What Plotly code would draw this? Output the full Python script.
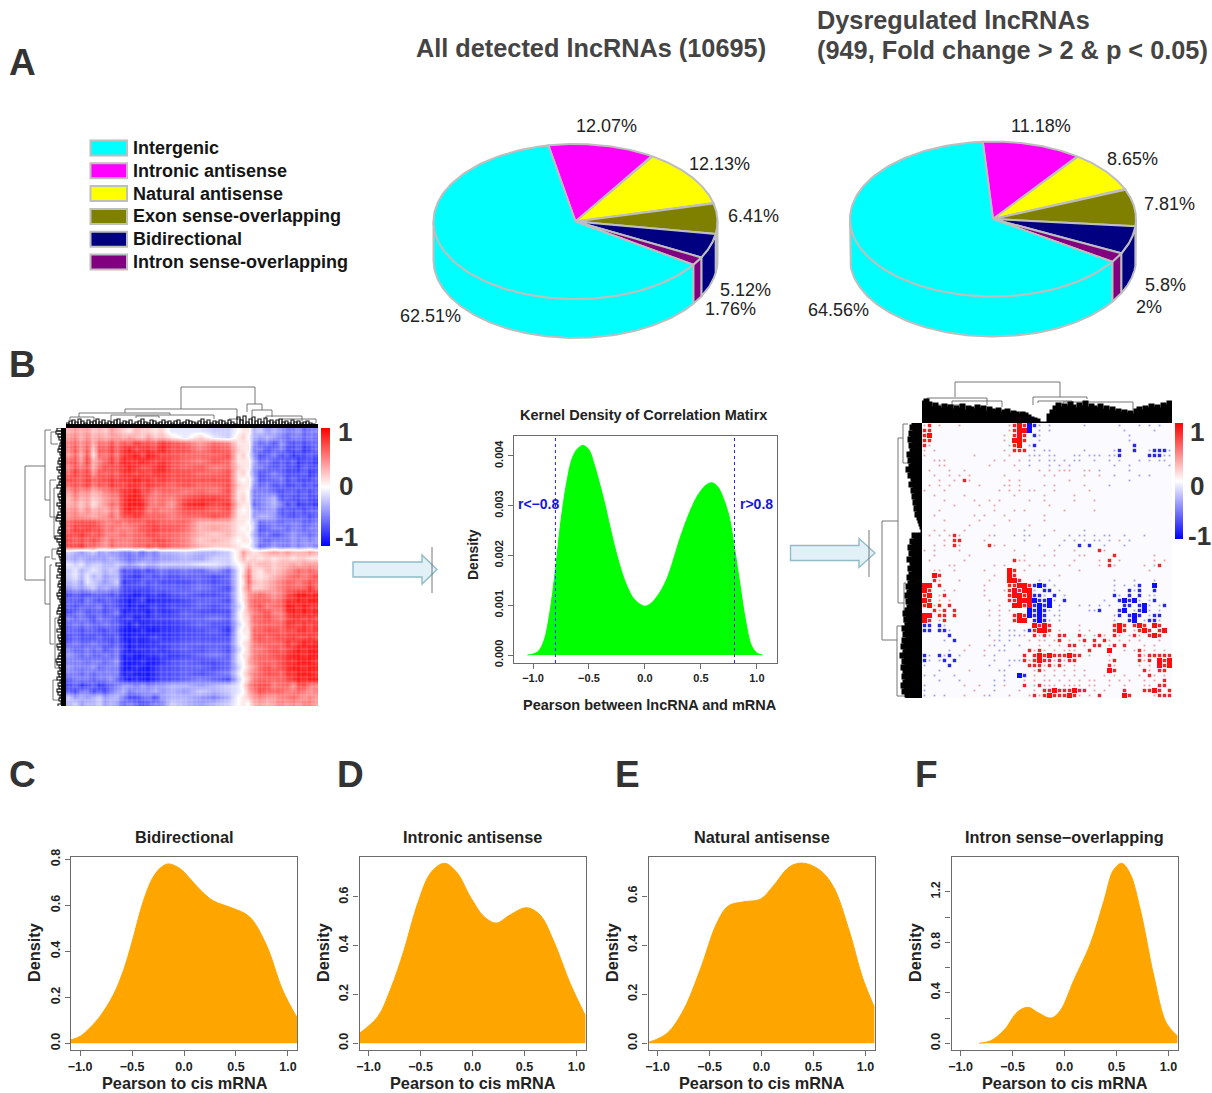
import math
import plotly.graph_objects as go

W, H = 1212, 1093
FONT = "Liberation Sans"

# ---------- panel A ----------
PIE_LABELS = ["Intergenic", "Intronic antisense", "Natural antisense",
              "Exon sense-overlapping", "Bidirectional", "Intron sense-overlapping"]
PIE_COLORS = ["#00FFFF", "#FF00FF", "#FFFF00", "#808000", "#000080", "#800080"]
PIE_ALL = [62.51, 12.07, 12.13, 6.41, 5.12, 1.76]
PIE_DYS = [64.56, 11.18, 8.65, 7.81, 5.8, 2.0]
PIE_ALL_TEXT = ["62.51%", "12.07%", "12.13%", "6.41%", "5.12%", "1.76%"]
PIE_DYS_TEXT = ["64.56%", "11.18%", "8.65%", "7.81%", "5.8%", "2%"]

# ---------- panel B: clustered correlation heatmap ----------
# digits are +tenths, letters a..i are -1..-9 tenths; spaces split the column clusters
HM1_CLUSTER_EDGES = [0, 54, 98, 169, 184, 218, 252]
HM1_ROWS = [
 "343423243 2132212 aaabb 011 cbdcd eedfee",
 "453534344 3432423 1a2ab 120 cdcde feefef",
 "564636575 7687768 76465 111 dfegd fgfgff",
 "574727686 8978879 77576 211 eegfe ggfhgf",
 "463716575 8897987 76667 120 dgfeg fhggfg",
 "674835686 9889878 76576 111 cfegf gfhggh",
 "575736777 8987789 76756 211 defgf gghfgg",
 "686847676 8878788 77667 120 dgfef gggfhg",
 "776867787 8898878 77777 101 cgffe gfgggf",
 "676857687 7887877 67667 211 dfegf ggfgfg",
 "464534566 8897756 65657 110 eeefg ffgfgf",
 "353423455 8998656 57887 120 eedcg fggfgg",
 "342413465 8999656 48978 211 fedce gfhggh",
 "453534354 8988565 57767 101 deddg fgfgff",
 "454434464 7787666 56676 111 dccdf fgffgf",
 "677776556 5666776 66333 110 bfeef eeeffe",
 "687877565 5567787 76343 101 bgfee feefee",
 "778767555 6566776 65323 110 cfegf edeefe",
 "767676465 5566677 65232 011 befee ededed",
 "778665465 5566767 65322 100 bfede ededde",
 "bcdcbdcdd eedfdec cbccb 142 12343 433343",
 "cdcddddcd efeeded dcdbb 131 21212 212211",
 "abacbbccb cdcbccb bbaab 013 23323 343444",
 "bacbabcbc gfgfgfe fefdf a15 21323 456565",
 "bacacbdcc gghgfgf gffgf a26 21234 566567",
 "cbdabcdcb hggfgfg ggfgf a16 32345 665676",
 "dcdcbdcdd gggggff ffefg a25 22345 666686",
 "gfggfffgf hhihhgh gfggf a14 56545 789989",
 "ffgefgffg hihgihh hgffg a14 66656 889899",
 "fgfffegfg hihihgh ggfgf b04 67566 998988",
 "gfegffgfe ihhhigh hfggg a13 56755 898989",
 "efefgeffg hgihhgg gffef a12 66765 788787",
 "fefeffeff higihhh hgfgg b02 56666 887878",
 "ffgffggfg iiihiih hggfh a11 66776 778878",
 "gfgggfggf iihihgh hgggg a01 67677 787787",
 "feffeffgf hihihhg gffff a12 56666 878989",
 "effefegfe hihhhgh gfgfg b02 55676 789899",
 "defeffefe ihiihhg hgfef a12 56677 899899",
 "eeefeefed iiihiih gfggf a03 56667 889998",
 "deeedfeee iihiihg gffgf b02 46767 899899",
 "eefefeeee ihiiihg gfgfe a13 56776 889998",
 "feeefeedf hihiihg gfefg b02 56666 789899",
 "gfhgfhgfe ddededd ccdcb a14 67756 647755",
 "fgeegfged cedddcd cdbcb a03 57666 556545",
 "bdcdcbdcc eggfegd ccdec 012 45445 565454",
 "cbdccbdcd fefgfee bcdcb 010 34345 454554",
]
HM1_PALE_COLS = [3,7,11,14,19,22,26,31,35,41,44,49,52,57,61,66,71,76,79,85,90,95,101,106,109,115,120,126,
                 131,134,140,144,151,155,159,166,172,175,181,187,191,196,201,206,209,215,219,226,230,235,241,246,250]
HM1_PALE_ROWS = [4,9,12,17,21,26,33,37,40,46,50,55,60,66,70,74,79,83,91,96,100,105,110,115,122,130,137,140,
                 146,151,157,165,170,176,180,186,191,197,205,209,216,221,226,233,238,244,249,255,259,267,272,276]

# ---------- panel B: thresholded heatmap (r/b solid, m/c medium, p/q sparse) ----------
HM2_ROWS = [
 "pm.p...p.........pmrmbcq.q......q......q...q.q.q..",
 "mm...............pmrrb.q.q..............q.....q...",
 "mr..............p.mrm.cq.................q........",
 "mm..............p.rrm..q.................q........",
 "mp...............pmr.qc...................c.......",
 "p.p.............p.mmm.q.qq......q.....qc..c..qcccq",
 "p.........p......p...qqq.qq...qq.qqq.qqc.....cccqq",
 "..ppp.........p.p..p.q.q.qq.q.qq..q..q.q...q.q.qq.",
 "...pp........p....p..q...q.q.q........q..q.......q",
 ".p...p..p..........p...p.p.ppp..pp.q.....q.....",
 "..p..p.p.p......p.......p.p.....p..p..q....q.q...",
 "...p..p.mp.......p.p.........p...........q......",
 ".p.p.p.....p....pp.p....p.p.....p....q.....",
 "p...p..........p.p.p.pp...p......p.......",
 "..p.....p.........p.....p.....p......",
 "....p.....p..p.p.....p..p.....p...p..",
 "......p....p..p..........p.......",
 "...p..........p...p.p.......p.....p..",
 "..p.......p.p...p.......p...",
 "....p......p.....p......p......",
 ".........p....p......p.......",
 "..p.p...p...........q.....p.....q...",
 ".p.p.pmp.....pq...q.qq..q....q.qq.q.qq..q...q",
 "....p.mm....p.......q.......q.q.q.qq.q.p.q..",
 "..p.p.mp.....mp.p......q...q...c.c..q...q..",
 "p.p....p..........p.......p...p....mp..........",
 "..p......p..........p...p.p....pp.....m.......p",
 ".p......p.........mpp.........p....p.m.p......p.p",
 ".....pp.......p.p....p.pp.p..p.....p.mp.....p.pm..",
 "..pp..p.....p....rm.p..........p.............p....",
 "..rm..........p..rm........p.....................",
 "..mp...p.....p...rrm...q.q............q...q...q...",
 "rr.m........p....mmrrmcbc.q...........q.q.qc..b....",
 "rm..p.p.....p...pmrmrrq.cc.q..........q..cqc..c....",
 "mr.pm.......p....mrrmrccq.c.q.........cq.c.c.qq...",
 "rm.p.p.......p...mmrrrbccbq.c.......q..cbcbq.qc...q",
 "mrpm.m.........p..rrmrcbcb.q...q.q.q.q..cc.cbq.qc..",
 "..mpm.m......p.p.p...bcbcq.q.....qqc...cb.qcbq.q...",
 "rr.mm.m......p.p..mrmbcbc.qq..........qc.cbc.qcc..",
 "rm.pm..........p..mrr.cbcq.q..........q..cb.qccq..",
 "cc.cq..........p......rmrm.....p......mrm.mrm.rm..",
 "cc.ccq.......p.q.qq.qcmrrm.p...p.p....mrm.pmrm.mr.",
 ".....c.......q.q.qqqp.mpmp.mm..mp.pmp.mp.pmp.mrm..",
 "....q.c.......pq.q...p.pp.pm.p.pm.m.mp.p.p.p...p..",
 ".........p...pq.q..q...p.p.p.mm.p.mm.pm.m...p.p..",
 ".....q..p...p..qq....mpmp.p.ppp..m...r..p.pmp.p.p",
 "cq.cqc.q....p.q.....m.mrmrmmmrmm.p...p.....mpmmmmm",
 "cq.qc.c.......q..qqqmpmrmmpmpmm......pm....mpm.rmr",
 "q....c.......q...q...mmmpmpmp.p......mp....p.p.rmr",
 "...q.....p.....qq.....pmp.p.p.p.p....rm.....mp.mm",
 "q.q...q.........q..bc.p.p.p.p.p.p...p.p.p..p.mp.p",
 "...q...q......q.q...p.p.pp.p.p.p.pp..p.p.p..p.p.m",
 "q.......p..p..q.p...m.pmppp.pppp.pp..p..p...pp.mm",
 "q.........p...q....p..p.mmrmmmrmm.p.p...m...mmrm.m",
 "q.q.q...p...pq...p...pmpmrmmmrmp.p.m....rm....pmmm",
]

# ---------- dendrograms: (pos1, h1, pos2, h2, merge height), px-like units ----------
DT1_BRANCHES = [(115,19,189,24,41),(59,15,171,8,19),(13,11,104,13,15),(181,16,196,18,24),(186,12,206,11,18),
                (45,8,148,9,13),(70,10,93,10,12),(4,8,28,7,11),(163,7,175,8,9),(200,8,236,7,12),(216,6,250,5,9)]
DT1_COMB = [5,7,8,6,9,7,5,8,6,7,9,6,8,5,7,6,8,9,5,7,6,8,4,6,7,9,6,5,8,7,5,6,8,6,7,5,
            7,8,5,6,8,7,6,5,7,9,6,8,5,7,6,8,7,5,8,6,4,11,8,12,6,9,11,7,9,6,10,7,8,
            6,8,9,6,7,5,8,6,7,5,6,7,5,4,3]
DL1_BRANCHES = [(38,21,152,21,41),(2,15,72,16,21),(52,10,89,8,16),(129,16,176,16,21),(137,14,216,12,16),
                (4,10,16,8,15),(121,9,131,10,14),(252,8,272,7,13),(60,7,110,8,12),(190,8,240,7,11)]
DL1_COMB = [9,10,8,7,5,6,7,8,6,5,7,8,6,9,7,5,8,6,7,9,5,6,8,7,6,9,7,5,8,9,10,6,5,7,8,6,
            11,9,7,6,8,9,7,6,5,10,7,8,6,9,5,7,8,6,7,9,8,6,5,7,8,9,6,7,8,7,6,9,5,8,
            7,6,9,8,5,7,8,10,9,7,6,8,7,9,6,8,7,9,8,6,7,5,8]
DT2_BRANCHES = [(33,26,138,26,41),(5,21,65,18,25),(30,18,80,16,22),(111,18,165,24,26),(116,20,150,18,22),
                (141,17,211,13,21),(5,16,40,15,18)]
DT2_COMB = [21,23,20,15,19,16,14,18,15,17,13,16,14,18,12,16,15,13,17,14,16,11,15,13,12,14,10,12,13,9,11,10,
            8,10,9,7,5,4,3,0,0,0,8,12,16,19,15,18,16,20,17,14,19,16,21,15,18,16,14,18,13,16,12,15,11,13,10,
            12,9,11,8,13,15,12,16,14,18,15,17,14,19,17,21,20]
DL2_BRANCHES = [(98,24,217,25,40),(15,19,180,18,24),(203,18,273,16,25),(1,14,40,14,19),(160,16,200,14,18),
                (218,14,250,15,18)]
DL2_COMB = [9,11,8,12,10,13,9,12,10,11,14,11,13,10,12,15,11,13,10,9,12,8,10,7,9,6,8,5,7,4,6,4,3,2,1,0,
            0,9,7,11,9,13,10,12,9,14,11,10,13,9,12,14,11,13,15,12,14,16,13,15,12,14,16,18,15,17,14,16,19,
            16,18,15,19,17,20,16,18,21,17,19,16,20,18,17,19,16,18,20,17,19,16,15]

# ---------- panel B: kernel density ----------
KD_X = [-1.05,-1.0,-0.95,-0.9,-0.85,-0.8,-0.75,-0.7,-0.65,-0.6,-0.55,-0.5,-0.45,-0.4,-0.35,-0.3,-0.25,-0.2,-0.15,
        -0.1,-0.05,0.0,0.05,0.1,0.15,0.2,0.25,0.3,0.35,0.4,0.45,0.5,0.55,0.6,0.65,0.7,0.75,0.8,0.85,0.9,0.95,1.0,1.05]
KD_Y = [0,.00002,.00008,.0003,.00085,.0017,.0027,.00345,.00395,.00415,.00421,.00412,.0038,.0034,.00295,.00245,.002,
        .00162,.00133,.00113,.00103,.00098,.00103,.00115,.00132,.00155,.00188,.00225,.00258,.00287,.00312,.0033,
        .00342,.00346,.00338,.00315,.0028,.00215,.0014,.00068,.0002,.00004,0]

# ---------- panels C-F ----------
C_X = [-1.09,-1.0,-0.9,-0.81,-0.68,-0.58,-0.5,-0.39,-0.3,-0.22,-0.15,-0.04,0.05,0.15,0.28,0.47,0.63,0.79,0.95,1.09]
C_Y = [.015,.03,.07,.116,.21,.32,.44,.62,.72,.765,.78,.76,.72,.67,.62,.587,.55,.43,.23,.11]
D_X = [-1.09,-0.91,-0.79,-0.66,-0.53,-0.4,-0.27,-0.15,-0.02,0.11,0.23,0.36,0.52,0.65,0.78,0.94,1.09]
D_Y = [.04,.11,.22,.38,.57,.70,.738,.70,.60,.52,.493,.526,.556,.526,.42,.245,.11]
E_X = [-1.09,-0.91,-0.75,-0.59,-0.43,-0.32,-0.17,-0.01,0.11,0.27,0.4,0.56,0.69,0.85,0.97,1.09]
E_Y = [.003,.04,.136,.30,.49,.56,.577,.588,.64,.72,.735,.707,.64,.45,.27,.143]
F_X = [-0.82,-0.71,-0.58,-0.45,-0.35,-0.25,-0.13,-0.04,0.09,0.25,0.38,0.47,0.55,0.63,0.73,0.86,0.98,1.09]
F_Y = [0,.02,.105,.25,.285,.24,.2,.26,.5,.79,1.13,1.37,1.425,1.345,1.055,.53,.16,.055]
X_TICKS = [-1.0, -0.5, 0.0, 0.5, 1.0]
X_TICK_TEXT = ["−1.0", "−0.5", "0.0", "0.5", "1.0"]

fig = go.Figure()
_n = [0]


def axes(l, t, r, b, xr, yr, frame=False, **kw):
    _n[0] += 1
    n = _n[0]
    common = dict(showgrid=False, zeroline=False)
    if frame:
        common.update(showline=True, mirror=True, linecolor="#6b6b6b", linewidth=1.3, ticks="outside",
                      tickcolor="#6b6b6b", ticklen=5)
    else:
        common.update(visible=False)
    fig.update_layout({
        f"xaxis{n}": dict(domain=[l / W, r / W], range=xr, anchor=f"y{n}", **common, **kw.get("x", {})),
        f"yaxis{n}": dict(domain=[1 - b / H, 1 - t / H], range=yr, anchor=f"x{n}", **common, **kw.get("y", {})),
    })
    return (f"x{n}", f"y{n}")


def add(ax, trace):
    trace.update(xaxis=ax[0], yaxis=ax[1], showlegend=False, hoverinfo="skip")
    fig.add_trace(trace)


def note(text, x, y, size, color="#222222", bold=True, anchor="center", angle=0):
    fig.add_annotation(text=text, x=x / W, y=1 - y / H, xref="paper", yref="paper", showarrow=False,
                       xanchor=anchor, yanchor="middle", textangle=angle,
                       font=dict(family=FONT, size=size, color=color, weight=700 if bold else 400))


def rect(l, t, r, b, fill, line, lw=2):
    fig.add_shape(type="rect", xref="paper", yref="paper", x0=l / W, x1=r / W, y0=1 - b / H, y1=1 - t / H,
                  fillcolor=fill, line=dict(color=line, width=lw))


def pie(values, start, cx, cy, rx, ry, depth):
    ax = axes(cx - 150, cy - 85, cx + 150, cy + 125, [-150, 150], [-125, 85])
    edge = dict(color="#BEBEBE", width=2)
    spans, a = [], start
    order = [1, 2, 3, 4, 5, 0]
    for i in order:
        b = a + values[i] * 3.6
        spans.append((i, a, b))
        a = b
    for i, a, b in spans:
        lo, hi = max(a, 90), min(b, 270)
        if hi > lo:
            ts = [lo + (hi - lo) * k / 120 for k in range(121)]
            xs = [rx * math.sin(math.radians(t)) for t in ts]
            ys = [ry * math.cos(math.radians(t)) for t in ts]
            add(ax, go.Scatter(x=xs + xs[::-1] + xs[:1], y=ys + [v - depth for v in ys[::-1]] + ys[:1],
                               mode="lines", fill="toself", fillcolor=PIE_COLORS[i], line=edge))
    for i, a, b in spans:
        ts = [a + (b - a) * k / 120 for k in range(121)]
        xs = [rx * math.sin(math.radians(t)) for t in ts]
        ys = [ry * math.cos(math.radians(t)) for t in ts]
        add(ax, go.Scatter(x=[0] + xs + [0], y=[0] + ys + [0], mode="lines", fill="toself",
                           fillcolor=PIE_COLORS[i], line=edge))


pie(PIE_ALL, -11.0, 575.5, 221.5, 142, 77.5, 39)
pie(PIE_DYS, -4.1, 993, 219, 143, 77.5, 40)

for i, (lab, col) in enumerate(zip(PIE_LABELS, PIE_COLORS)):
    y = 148 + i * 22.8
    rect(90.5, y - 7.5, 127, y + 7.5, col, "#BEBEBE")
    note(lab, 131, y, 18, "#151515", anchor="left")

for txt, x, y in zip(PIE_ALL_TEXT, [430, 606, 719, 753, 745, 730], [316, 126, 164, 216, 290, 309]):
    note(txt, x, y, 18, "#222222", bold=False)
for txt, x, y in zip(PIE_DYS_TEXT, [838, 1041, 1132, 1169, 1165, 1149], [310, 126, 159, 204, 285, 307]):
    note(txt, x, y, 18, "#222222", bold=False)

note("All detected lncRNAs (10695)", 590.5, 48, 25.3, "#444444")
note("Dysregulated lncRNAs", 815, 20, 25.3, "#444444", anchor="left")
note("(949, Fold change > 2 &amp; p &lt; 0.05)", 815, 50, 25.3, "#444444", anchor="left")

for letter, x, y in [("A", 22, 63), ("B", 22, 364), ("C", 22, 774), ("D", 350, 774), ("E", 627, 774), ("F", 926, 774)]:
    note(letter, x, y, 37, "#333333")

BWR = [[0, "#0000FF"], [0.5, "#FFFFFF"], [1, "#FF0000"]]


def cbar(l, t, r, b):
    return dict(x=l / W, xanchor="left", xpad=0, y=1 - t / H, yanchor="top", ypad=0,
                thicknessmode="pixels", thickness=r - l, lenmode="fraction", len=(b - t) / H,
                outlinewidth=0, ticks="", showticklabels=False)


def level(ch):
    return int(ch) / 10 if ch.isdigit() else -(ord(ch) - 96) / 10


# left heatmap
ax = axes(66, 428, 318, 706, [0, 252], [278, 0])
hm1 = [[level(ch) for ch in row.replace(" ", "")] for row in HM1_ROWS]
hm1_x = []
for group, a, b in zip(HM1_ROWS[0].split(" "), HM1_CLUSTER_EDGES, HM1_CLUSTER_EDGES[1:]):
    hm1_x += [a + (k + 0.5) * (b - a) / len(group) for k in range(len(group))]
hm1_y = [(j + 0.5) * 278 / len(hm1) for j in range(len(hm1))]
add(ax, go.Heatmap(x=hm1_x, y=hm1_y, z=hm1, zsmooth="best",
                   colorscale=BWR, zmin=-1, zmax=1, colorbar=cbar(321, 428, 330, 546)))
pale_x, pale_y = [], []
for v in HM1_PALE_COLS:
    pale_x += [v, v, None]
    pale_y += [0, 278, None]
add(ax, go.Scatter(x=pale_x, y=pale_y, mode="lines", line=dict(color="rgba(255,255,255,0.2)", width=1)))
pale_x, pale_y = [], []
for v in HM1_PALE_ROWS:
    pale_x += [0, 252, None]
    pale_y += [v, v, None]
add(ax, go.Scatter(x=pale_x, y=pale_y, mode="lines", line=dict(color="rgba(255,255,255,0.2)", width=1)))
note("1", 345, 432, 26, "#333333")
note("0", 346, 486, 26, "#333333")
note("-1", 346, 537, 26, "#333333")


def seg_lists(branches):
    ps, hs = [], []
    for p1, h1, p2, h2, top in branches:
        ps += [p1, p1, p2, p2, None]
        hs += [h1, top, top, h2, None]
    return ps, hs


def comb_lists(values, step):
    ps, hs = [], []
    for i, v in enumerate(values):
        p = i * step
        ps += [p, p, p + step, p + step, None]
        hs += [0, v, v, 0, None]
    return ps, hs


GRAY = dict(color="#666666", width=0.9)
DARK = dict(color="#111111", width=1.1)
BLACK = dict(color="#000000", width=3)
# top dendrogram, left heatmap
ax = axes(66, 385, 318, 428, [0, 252], [0, 43])
p, h = seg_lists(DT1_BRANCHES)
add(ax, go.Scatter(x=p, y=h, mode="lines", line=GRAY))
p, h = comb_lists(DT1_COMB, 3)
add(ax, go.Scatter(x=p, y=h, mode="lines", line=DARK))
add(ax, go.Scatter(x=[0, 252], y=[2, 2], mode="lines", line=dict(color="#000000", width=4)))
# side dendrogram, left heatmap
ax = axes(24, 428, 66, 706, [42, 0], [278, 0])
p, h = seg_lists(DL1_BRANCHES)
add(ax, go.Scatter(x=h, y=p, mode="lines", line=GRAY))
p, h = comb_lists(DL1_COMB, 3)
add(ax, go.Scatter(x=h, y=p, mode="lines", line=DARK))
add(ax, go.Scatter(x=[2.5, 2.5], y=[0, 278], mode="lines", line=dict(color="#000000", width=5)))

# right heatmap
COLS2, ROWS2 = 50, len(HM2_ROWS)
grid = [r.ljust(COLS2, ".")[:COLS2] for r in HM2_ROWS]
LEVEL = {"r": 0.95, "b": -0.95}
z2 = [[LEVEL.get(ch, -0.02) for ch in row] for row in grid]
ax = axes(922, 423, 1172, 698, [-0.5, COLS2 - 0.5], [ROWS2 - 0.5, -0.5])
add(ax, go.Heatmap(z=z2, colorscale=BWR, zmin=-1, zmax=1, colorbar=cbar(1175, 423, 1183, 539)))
DOTS = {"p": ("#E9A0A0", 1.8), "q": ("#A0A0EA", 1.8), "m": ("#E62A2A", 3.4), "c": ("#2A2AE6", 3.4)}
for key, (col, size) in DOTS.items():
    xs, ys = [], []
    for j, row in enumerate(grid):
        for i, ch in enumerate(row):
            if ch == key:
                xs.append(i)
                ys.append(j)
    add(ax, go.Scatter(x=xs, y=ys, mode="markers", marker=dict(symbol="square", size=size, color=col, line_width=0)))
note("1", 1197, 432, 26, "#333333")
note("0", 1197, 486, 26, "#333333")
note("-1", 1199, 536, 26, "#333333")

# top dendrogram, right heatmap
ax = axes(922, 381, 1172, 423, [0, 250], [0, 42])
p, h = seg_lists(DT2_BRANCHES)
add(ax, go.Scatter(x=p, y=h, mode="lines", line=GRAY))
p, h = comb_lists(DT2_COMB, 3)
add(ax, go.Scatter(x=p, y=h, mode="lines", line=BLACK))
# side dendrogram, right heatmap
ax = axes(881, 423, 922, 698, [41, 0], [275, 0])
p, h = seg_lists(DL2_BRANCHES)
add(ax, go.Scatter(x=h, y=p, mode="lines", line=GRAY))
p, h = comb_lists(DL2_COMB, 3)
add(ax, go.Scatter(x=h, y=p, mode="lines", line=BLACK))

# kernel density
tickfont_small = dict(family=FONT, size=11, color="#222222", weight=700)
ax = axes(514, 436, 777, 663, [-1.17, 1.18], [-0.00016, 0.0044], frame=True,
          x=dict(tickvals=X_TICKS, ticktext=X_TICK_TEXT, tickfont=tickfont_small),
          y=dict(tickvals=[0, .001, .002, .003, .004], ticktext=["0.000", "0.001", "0.002", "0.003", "0.004"],
                 tickangle=-90, tickfont=tickfont_small))
add(ax, go.Scatter(x=KD_X, y=KD_Y, mode="lines", fill="tozeroy", fillcolor="#00FF00",
                   line=dict(color="#00FF00", width=1, shape="spline", smoothing=1.0)))
for v in (-0.8, 0.8):
    add(ax, go.Scatter(x=[v, v], y=[-0.00016, 0.0044], mode="lines",
                       line=dict(color="#2222EE", width=1, dash="dot")))
note("r&lt;−0.8", 538, 504, 14, "#1515E0")
note("r&gt;0.8", 756, 504, 14, "#1515E0")
note("Kernel Density of Correlation Matirx", 643, 415, 14.5)
note("Pearson between lncRNA and mRNA", 650, 705, 14.5)
note("Density", 473, 555, 14, angle=-90)

# panels C-F
tickfont = dict(family=FONT, size=12.5, color="#222222", weight=700)
PANELS = [
    ("Bidirectional", C_X, C_Y, 71, 297, [-0.029, 0.81], [0, .2, .4, .6, .8], ["0.0", "0.2", "0.4", "0.6", "0.8"], 185, 34),
    ("Intronic antisense", D_X, D_Y, 359.5, 585.5, [-0.0275, 0.764], [0, .2, .4, .6], ["0.0", "0.2", "0.4", "0.6"], 472, 323),
    ("Natural antisense", E_X, E_Y, 648.5, 874.5, [-0.0275, 0.76], [0, .2, .4, .6], ["0.0", "0.2", "0.4", "0.6"], 762, 612),
    ("Intron sense−overlapping", F_X, F_Y, 951.5, 1177.5, [-0.053, 1.475], [0, .2, .4, .6, .8, 1.0, 1.2],
     ["0.0", "", "0.4", "", "0.8", "", "1.2"], 1064, 915),
]
for title, xs, ys, l, r, yr, yt, ytt, tx, dx in PANELS:
    ax = axes(l, 857, r, 1050, [-1.087, 1.087], yr, frame=True,
              x=dict(tickvals=X_TICKS, ticktext=X_TICK_TEXT, tickfont=tickfont),
              y=dict(tickvals=yt, ticktext=ytt, tickangle=-90, tickfont=tickfont))
    add(ax, go.Scatter(x=xs, y=ys, mode="lines", fill="tozeroy", fillcolor="#FFA500",
                       line=dict(color="#FFA500", width=1, shape="spline", smoothing=1.0)))
    note(title, tx, 837, 16.3)
    note("Pearson to cis mRNA", (l + r) / 2 + 0.5, 1083, 16.3)
    note("Density", dx, 953, 16.3, angle=-90)


# arrows between the panels of B
def arrow(x0, xh, xt, yc, body, head, xv, v0, v1):
    pts = [(x0, yc - body), (xh, yc - body), (xh, yc - head), (xt, yc), (xh, yc + head), (xh, yc + body), (x0, yc + body)]
    path = "M " + " L ".join(f"{x / W:.5f},{1 - y / H:.5f}" for x, y in pts) + " Z"
    fig.add_shape(type="path", path=path, xref="paper", yref="paper", fillcolor="#E2F1F7",
                  line=dict(color="#8FBCC8", width=1.4))
    fig.add_shape(type="line", xref="paper", yref="paper", x0=xv / W, x1=xv / W, y0=1 - v1 / H, y1=1 - v0 / H,
                  line=dict(color="#777777", width=1))


arrow(353, 422, 437, 569.5, 7.5, 14.5, 432, 547, 593)
arrow(790.5, 859, 875, 553, 7.5, 14.5, 869, 530, 577)

fig.update_layout(width=W, height=H, margin=dict(l=0, r=0, t=0, b=0, autoexpand=False),
                  paper_bgcolor="white", plot_bgcolor="white", font=dict(family=FONT), showlegend=False)
fig.write_html("out.html", config={"displayModeBar": False},
               post_script="document.body.style.margin='0';document.body.style.overflow='hidden';")
